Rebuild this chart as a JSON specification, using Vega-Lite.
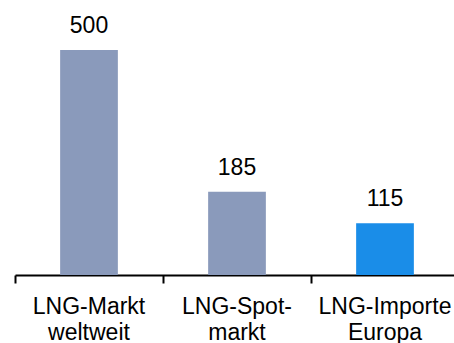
{
  "$schema": "https://vega.github.io/schema/vega-lite/v6.json",
  "autosize": "none",
  "width": 444,
  "height": 225,
  "padding": {"top": 50, "left": 15, "right": 0, "bottom": 68},
  "background": "white",
  "config": {
    "view": {"stroke": null},
    "font": "Liberation Sans",
    "text": {"font": "Liberation Sans"}
  },
  "data": {
    "values": [
      {"Kategorie": "LNG-Markt|weltweit", "Wert": 500, "Region": "Welt"},
      {"Kategorie": "LNG-Spot-|markt", "Wert": 185, "Region": "Welt"},
      {"Kategorie": "LNG-Importe|Europa", "Wert": 115, "Region": "Europa"}
    ]
  },
  "encoding": {
    "x": {
      "field": "Kategorie",
      "type": "nominal",
      "sort": null,
      "scale": {"paddingInner": 0, "paddingOuter": 0},
      "axis": {
        "title": null,
        "labelAngle": 0,
        "bandPosition": 0,
        "labelExpr": "split(datum.label, '|')",
        "labelFont": "Liberation Sans",
        "labelFontSize": 23,
        "labelColor": "#000000",
        "labelLineHeight": 26.7,
        "labelPadding": 12,
        "labelBaseline": "top",
        "domainColor": "#000000",
        "domainWidth": 2,
        "tickColor": "#000000",
        "tickWidth": 2,
        "tickSize": 8,
        "grid": false
      }
    },
    "y": {
      "field": "Wert",
      "type": "quantitative",
      "scale": {"domain": [0, 500], "nice": false},
      "axis": null
    }
  },
  "layer": [
    {
      "mark": {"type": "bar", "width": {"band": 0.39}},
      "encoding": {
        "color": {
          "field": "Region",
          "type": "nominal",
          "scale": {"domain": ["Welt", "Europa"], "range": ["#8a9abb", "#1a8de8"]},
          "legend": null
        }
      }
    },
    {
      "mark": {
        "type": "text",
        "baseline": "alphabetic",
        "dy": -17,
        "fontSize": 23,
        "font": "Liberation Sans",
        "color": "#000000"
      },
      "encoding": {
        "text": {"field": "Wert", "type": "quantitative"}
      }
    }
  ]
}
